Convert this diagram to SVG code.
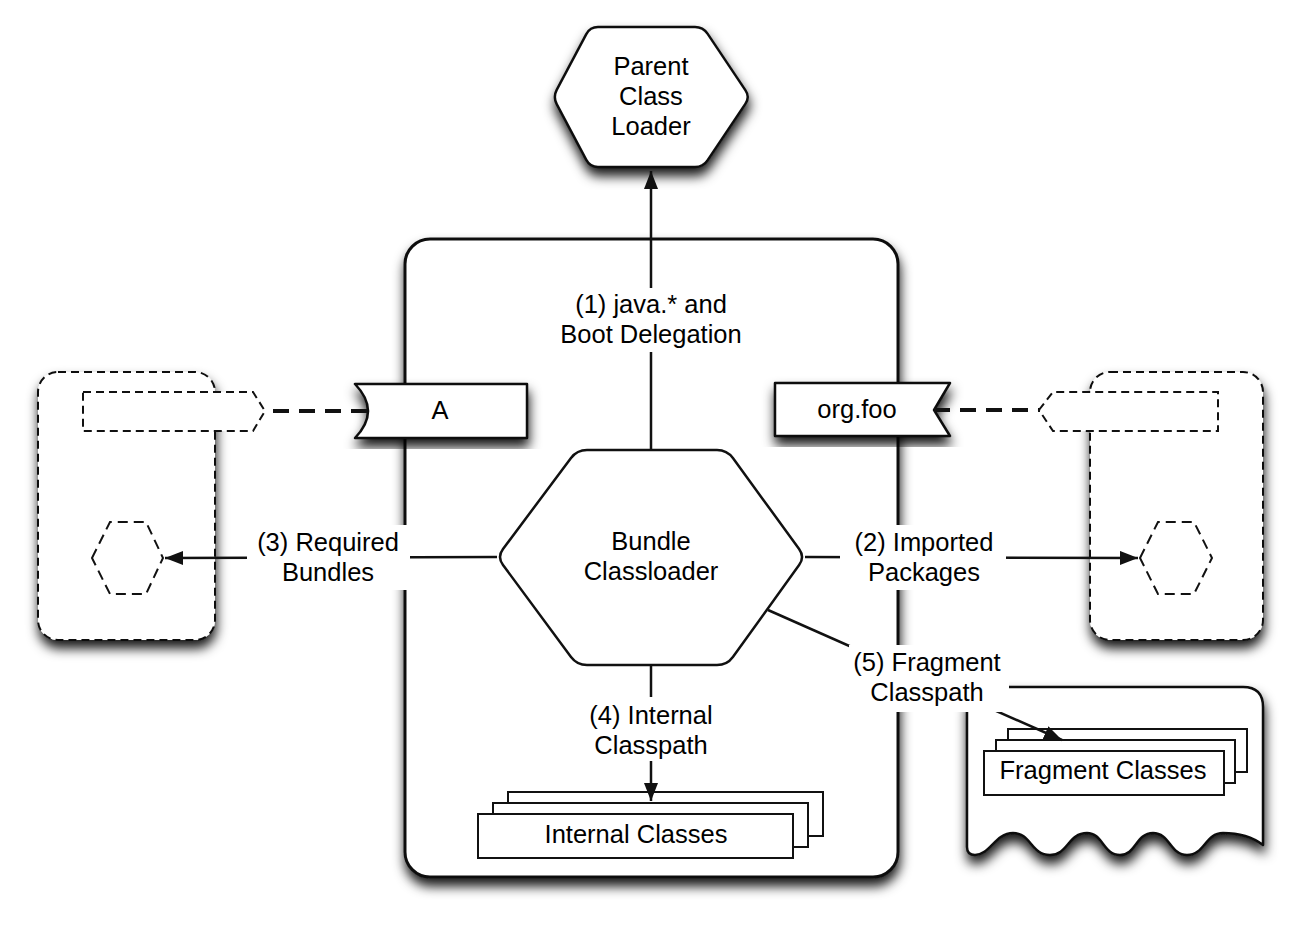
<svg xmlns="http://www.w3.org/2000/svg" width="1294" height="938" viewBox="0 0 1294 938">
<defs>
<style>
.t{font-family:"Liberation Sans",Arial,sans-serif;font-size:25.5px;fill:#000;text-anchor:middle}
.solid{fill:#fff;stroke:#111;stroke-width:2.5;stroke-linejoin:round}
.thick{fill:#fff;stroke:#111;stroke-width:3}
.dash{fill:#fff;stroke:#111;stroke-width:2;stroke-dasharray:8 5}
.dhex{fill:#fff;stroke:#111;stroke-width:2;stroke-dasharray:10 6}
.stack{fill:#fff;stroke:#111;stroke-width:2}
.conn{fill:none;stroke:#111;stroke-width:2.5}
.dconn{fill:none;stroke:#111;stroke-width:4;stroke-dasharray:16 10}
.bg{fill:#fff;stroke:none}
</style>
<filter id="sh" x="-20%" y="-20%" width="140%" height="140%">
<feDropShadow dx="1" dy="8" stdDeviation="6" flood-color="#000" flood-opacity="0.9"/>
</filter>
<marker id="ah" markerUnits="userSpaceOnUse" markerWidth="20" markerHeight="16" refX="18" refY="7" orient="auto">
<path d="M0,0 L18,7 L0,14 Z" fill="#111"/>
</marker>
</defs>
<rect width="1294" height="938" fill="#fff"/>

<g id="bundle-container">
<rect class="thick" x="405" y="239" width="493" height="638" rx="25" filter="url(#sh)"/>
</g>

<g id="parent-class-loader">
<path class="solid" filter="url(#sh)" d="M556.7,89.9 L586.3,34.1 Q590,27 598,27 L695,27 Q703,27 707.5,33.6 L745.5,90.4 Q750,97 745.5,103.6 L707.5,160.4 Q703,167 695,167 L598,167 Q590,167 586.3,159.9 L556.7,104.1 Q553,97 556.7,89.9 Z"/>
<text class="t" x="651" y="75">Parent</text>
<text class="t" x="651" y="105">Class</text>
<text class="t" x="651" y="135">Loader</text>
</g>

<g id="left-bundle">
<rect class="dash" x="38" y="372" width="177" height="268" rx="20" filter="url(#sh)"/>
<path class="dash" d="M83,392 L253,392 L265,411 L253,431 L83,431 Z"/>
<path class="dhex" d="M92,558 L110,522 L146,522 L163,558 L146,594 L110,594 Z"/>
</g>

<g id="right-bundle">
<rect class="dash" x="1090" y="372" width="173" height="268" rx="20" filter="url(#sh)"/>
<path class="dash" d="M1039,410 L1053,392 L1218,392 L1218,431 L1053,431 Z"/>
<path class="dhex" d="M1140,558 L1158,522 L1194,522 L1212,558 L1194,594 L1158,594 Z"/>
</g>

<g id="fragment">
<path class="solid" filter="url(#sh)" d="M987,687 L1243,687 Q1263,687 1263,707 L1263,845 C1250,835 1235,833 1223,833 C1205,833 1205,855 1187,855 C1170,855 1170,833 1153,833 C1136,833 1136,855 1120,855 C1103,855 1103,833 1087,833 C1068,833 1068,855 1050,855 C1031,855 1031,833 1013,833 C995,833 990,855 975,855 Q967,855 967,847 L967,707 Q967,687 987,687 Z"/>
<rect class="stack" x="1008" y="729" width="239" height="43"/>
<rect class="stack" x="996" y="740" width="239" height="43"/>
<rect class="stack" x="984" y="751" width="240" height="44"/>
<text class="t" x="1103" y="779">Fragment Classes</text>
</g>

<g id="tab-a">
<path class="solid" filter="url(#sh)" d="M355,384 L527,384 L527,438 L355,438 Q381,411 355,384 Z"/>
<text class="t" x="440" y="419">A</text>
</g>

<g id="tab-orgfoo">
<path class="solid" filter="url(#sh)" d="M775,383 L950,383 L934,410 L950,436 L775,436 Z"/>
<text class="t" x="857" y="418">org.foo</text>
</g>

<g id="bundle-classloader">
<path class="solid" d="M503,549 L571,458 Q577,450 587,450 L717,450 Q727,450 732.9,458.1 L799.1,548.9 Q805,557 799.1,565.1 L732.9,656.9 Q727,665 717,665 L587,665 Q577,665 571,657 L503,565 Q497,557 503,549 Z"/>
<text class="t" x="651" y="550">Bundle</text>
<text class="t" x="651" y="580">Classloader</text>
</g>

<g id="internal-classes">
<rect class="stack" x="508" y="792" width="315" height="44"/>
<rect class="stack" x="493" y="803" width="315" height="44"/>
<rect class="stack" x="478" y="814" width="315" height="44"/>
<text class="t" x="636" y="843">Internal Classes</text>
</g>

<g id="connectors">
<line class="conn" x1="651" y1="450" x2="651" y2="171" marker-end="url(#ah)"/>
<line class="conn" x1="497" y1="557" x2="165" y2="558" marker-end="url(#ah)"/>
<line class="conn" x1="805" y1="557" x2="1138" y2="558" marker-end="url(#ah)"/>
<line class="conn" x1="651" y1="665" x2="651" y2="801" marker-end="url(#ah)"/>
<line class="conn" x1="768" y1="610" x2="1062" y2="740" marker-end="url(#ah)"/>
<line class="dconn" x1="367" y1="411" x2="265" y2="411"/>
<line class="dconn" x1="934" y1="410" x2="1040" y2="410"/>
</g>

<g id="labels">
<rect class="bg" x="555" y="288" width="192" height="64"/>
<text class="t" x="651" y="313">(1) java.* and</text>
<text class="t" x="651" y="343">Boot Delegation</text>
<rect class="bg" x="247" y="525" width="163" height="65"/>
<text class="t" x="328" y="551">(3) Required</text>
<text class="t" x="328" y="581">Bundles</text>
<rect class="bg" x="840" y="525" width="166" height="65"/>
<text class="t" x="924" y="551">(2) Imported</text>
<text class="t" x="924" y="581">Packages</text>
<rect class="bg" x="584" y="697" width="134" height="64"/>
<text class="t" x="651" y="724">(4) Internal</text>
<text class="t" x="651" y="754">Classpath</text>
<rect class="bg" x="849" y="645" width="160" height="67"/>
<text class="t" x="927" y="671">(5) Fragment</text>
<text class="t" x="927" y="701">Classpath</text>
</g>
</svg>
